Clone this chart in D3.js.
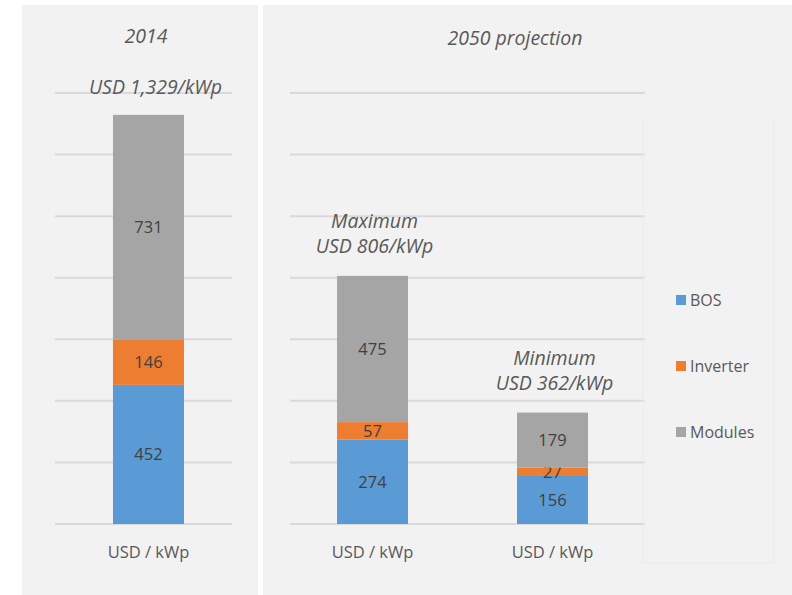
<!DOCTYPE html>
<html>
<head>
<meta charset="utf-8">
<script src="https://cdn.jsdelivr.net/npm/d3@7"></script>
<style>
  html, body { margin: 0; padding: 0; background: #ffffff; }
  svg { display: block; font-family: "Open Sans", "Noto Sans", sans-serif; }
</style>
</head>
<body>
<svg id="chart" width="792" height="595"></svg>
<script>
// PV system cost breakdown, USD per kWp
const seriesNames = ["BOS", "Inverter", "Modules"];
const seriesColors = ["#5b9bd5", "#ed7d31", "#a5a5a5"];

const categories2014 = ["USD / kWp"];
const bos2014 = [452];
const inverter2014 = [146];
const modules2014 = [731];

const categories2050 = ["max", "min"];
const categoryLabels2050 = ["USD / kWp", "USD / kWp"];
const bos2050 = [274, 156];
const inverter2050 = [57, 27];
const modules2050 = [475, 179];

const totalNotes2050 = [["Maximum", "USD 806/kWp"], ["Minimum", "USD 362/kWp"]];
const yTicks = [0, 200, 400, 600, 800, 1000, 1200, 1400];

const svg = d3.select("#chart");

// panel backgrounds
svg.append("rect").attr("x", 22).attr("y", 5).attr("width", 236).attr("height", 590).attr("fill", "#f2f2f2");
svg.append("rect").attr("x", 263).attr("y", 5).attr("width", 529).attr("height", 590).attr("fill", "#f2f2f2");

const y = d3.scaleLinear().domain([0, 1400]).range([524, 93]);

function drawPanel(cfg) {
  const g = svg.append("g");
  const x = d3.scaleBand().domain(cfg.categories).range(cfg.range)
    .paddingInner(cfg.paddingInner).paddingOuter(cfg.paddingOuter).align(cfg.align);

  // gridlines
  g.selectAll("line.grid").data(yTicks).join("line")
    .attr("class", "grid")
    .attr("x1", cfg.range[0]).attr("x2", cfg.range[1])
    .attr("y1", d => y(d)).attr("y2", d => y(d))
    .attr("stroke", "#d9d9d9").attr("stroke-width", 2);

  const rows = cfg.categories.map((c, i) => ({ cat: c, BOS: cfg.bos[i], Inverter: cfg.inverter[i], Modules: cfg.modules[i] }));
  const stacked = d3.stack().keys(seriesNames)(rows);

  stacked.forEach((layer, li) => {
    g.selectAll(null).data(layer).join("rect")
      .attr("x", d => x(d.data.cat))
      .attr("width", x.bandwidth())
      .attr("y", d => y(d[1]))
      .attr("height", d => y(d[0]) - y(d[1]))
      .attr("fill", seriesColors[li]);
    g.selectAll(null).data(layer).join("text")
      .attr("x", d => x(d.data.cat) + x.bandwidth() / 2)
      .attr("y", d => (y(d[0]) + y(d[1])) / 2)
      .attr("dy", "0.36em")
      .attr("text-anchor", "middle")
      .attr("font-size", 16.5)
      .attr("fill", "#404040")
      .text(d => d[1] - d[0]);
  });

  // category axis labels
  g.selectAll(null).data(cfg.categories).join("text")
    .attr("x", d => x(d) + x.bandwidth() / 2)
    .attr("y", 558)
    .attr("text-anchor", "middle")
    .attr("font-size", 16.5)
    .attr("fill", "#595959")
    .text((d, i) => cfg.labels[i]);

  return { x, rows };
}

// 2014 panel
const left = drawPanel({
  categories: categories2014, labels: categories2014,
  bos: bos2014, inverter: inverter2014, modules: modules2014,
  range: [55, 232], paddingInner: 0, paddingOuter: 0.746, align: 0.547
});

// 2050 panel
const right = drawPanel({
  categories: categories2050, labels: categoryLabels2050,
  bos: bos2050, inverter: inverter2050, modules: modules2050,
  range: [290, 645], paddingInner: 0.6056, paddingOuter: 0.289, align: 0.452
});

// titles
const italic = sel => sel.attr("font-style", "italic").attr("fill", "#595959").attr("text-anchor", "middle");
svg.append("text").call(italic).attr("x", 146).attr("y", 43).attr("font-size", 19.5).text("2014");
svg.append("text").call(italic).attr("x", 515).attr("y", 45).attr("font-size", 19.5).text("2050 projection");

// 2014 total
const total2014 = bos2014[0] + inverter2014[0] + modules2014[0];
svg.append("text").call(italic)
  .attr("x", left.x(categories2014[0]) + left.x.bandwidth() / 2 + 7)
  .attr("y", y(total2014) - 21)
  .attr("font-size", 19.5)
  .text("USD " + d3.format(",")(total2014) + "/kWp");

// 2050 totals
categories2050.forEach((c, i) => {
  const total = bos2050[i] + inverter2050[i] + modules2050[i];
  const cx = right.x(c) + right.x.bandwidth() / 2 + 2;
  const t = svg.append("text").call(italic).attr("font-size", 19.5);
  t.append("tspan").attr("x", cx).attr("y", y(total) - 48).text(totalNotes2050[i][0]);
  t.append("tspan").attr("x", cx).attr("y", y(total) - 23).text(totalNotes2050[i][1]);
});

// legend
const legend = svg.append("g");
legend.append("rect").attr("x", 643).attr("y", 120).attr("width", 131).attr("height", 443)
  .attr("fill", "none").attr("stroke", "#ebebeb").attr("stroke-width", 1);
const legendY = d3.scalePoint().domain(seriesNames).range([300, 432]);
const items = legend.selectAll("g").data(seriesNames).join("g")
  .attr("transform", d => `translate(676,${legendY(d)})`);
items.append("rect").attr("x", 0).attr("y", -5).attr("width", 10).attr("height", 10)
  .attr("fill", (d, i) => seriesColors[i]);
items.append("text").attr("x", 14).attr("y", 0).attr("dy", "0.35em")
  .attr("font-size", 16).attr("fill", "#595959").text(d => d);
</script>
</body>
</html>
